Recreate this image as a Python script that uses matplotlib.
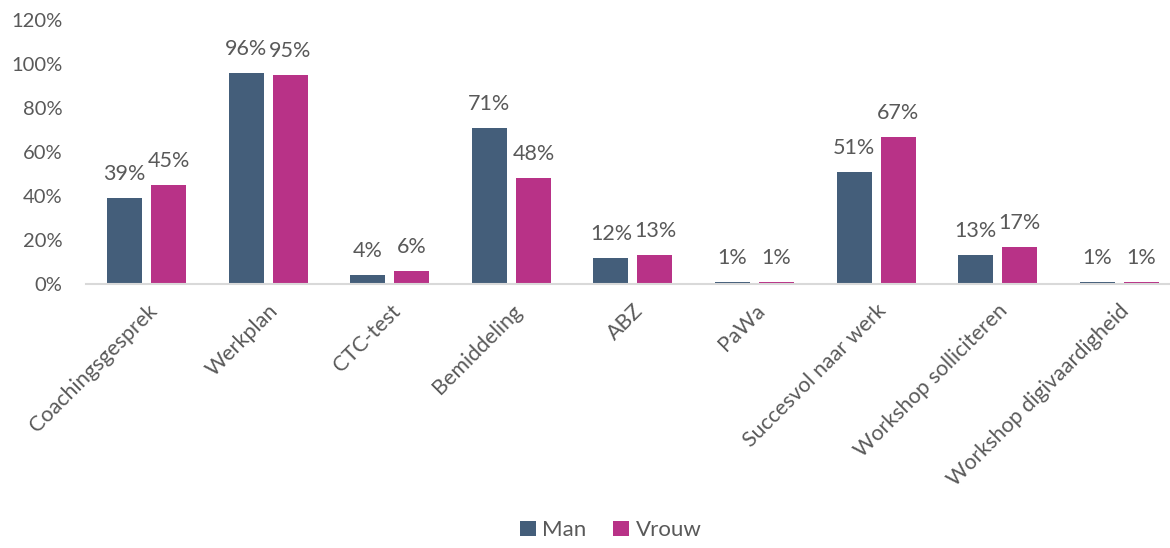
import matplotlib.pyplot as plt
import numpy as np

categories = ["Coachingsgesprek", "Werkplan", "CTC-test", "Bemiddeling", "ABZ",
              "PaWa", "Succesvol naar werk", "Workshop solliciteren",
              "Workshop digivaardigheid"]
man = [39, 96, 4, 71, 12, 1, 51, 13, 1]
vrouw = [45, 95, 6, 48, 13, 1, 67, 17, 1]

plt.rcParams['font.family'] = ['Lato', 'DejaVu Sans']
txt = '#595959'

fig = plt.figure(figsize=(11.7, 5.48), dpi=100)
ax = fig.add_axes([0.0735, 0.4818, 0.935, 0.4817])

x = np.arange(len(categories))
w = 0.288
off = 0.181
b1 = ax.bar(x - off, man, w, color='#445E7A', label='Man')
b2 = ax.bar(x + off, vrouw, w, color='#B83287', label='Vrouw')

# waardelabels boven de staven
for bars, vals in ((b1, man), (b2, vrouw)):
    for b, v in zip(bars, vals):
        ax.annotate(f"{v}%", (b.get_x() + b.get_width() / 2, v),
                    xytext=(0, 10), textcoords='offset points', ha='center',
                    va='bottom', fontsize=15.5, color=txt)

ax.set_xlim(-0.5, len(categories) - 0.5)
ax.set_ylim(0, 120)
ax.set_yticks(range(0, 121, 20))
ax.set_yticklabels([f"{t}%" for t in range(0, 121, 20)])
ax.set_xticks(x)
ax.set_xticklabels(categories, rotation=45, ha='right', va='top',
                   rotation_mode='anchor', fontsize=15.5)

ax.tick_params(axis='both', length=0, labelcolor=txt)
ax.tick_params(axis='y', pad=17, labelsize=14.5)
ax.tick_params(axis='x', pad=12)
for s in ['top', 'right', 'left']:
    ax.spines[s].set_visible(False)
ax.spines['bottom'].set_color('#D9D9D9')
ax.spines['bottom'].set_linewidth(1.5)

fig.legend(loc='lower center', bbox_to_anchor=(0.522, -0.022), ncol=2,
           frameon=False, fontsize=16, handlelength=0.7, handleheight=0.7,
           handletextpad=0.3, columnspacing=1.2, labelcolor=txt)

fig.savefig('out.png', dpi=100)
